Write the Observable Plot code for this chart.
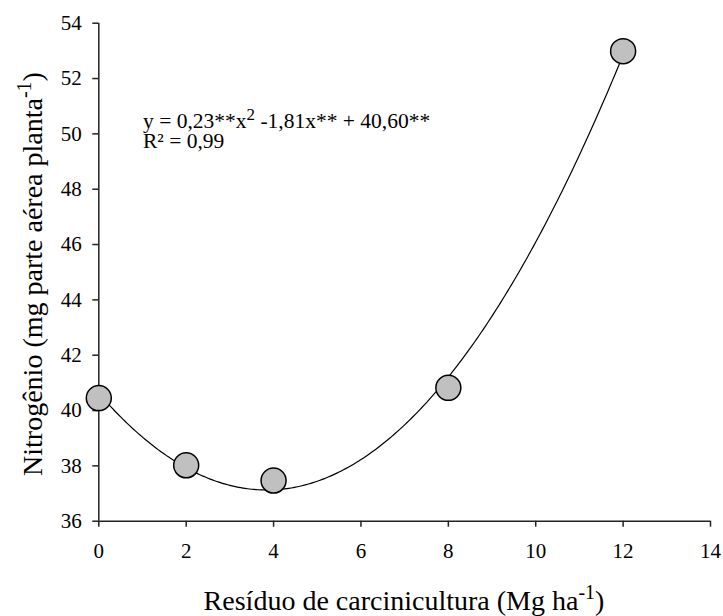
<!DOCTYPE html>
<html>
<head>
<meta charset="utf-8">
<script src="https://cdn.jsdelivr.net/npm/d3@7"></script>
<script src="https://cdn.jsdelivr.net/npm/@observablehq/plot@0.6"></script>
<style>
  html, body { margin: 0; padding: 0; background: #fff; }
  #chart svg { display: block; }
  #chart svg, #chart svg text, #chart svg tspan { font-family: "Liberation Serif", "Times New Roman", Times, serif; }
</style>
</head>
<body>
<div id="chart"></div>
<script>
// Data
const doses = [0, 2, 4, 8, 12];                       // Resíduo de carcinicultura (Mg ha-1)
const nitrogen = [40.45, 38.02, 37.47, 40.82, 52.99]; // Nitrogênio (mg parte aérea planta-1)
const xTicks = [0, 2, 4, 6, 8, 10, 12, 14];
const yTicks = [36, 38, 40, 42, 44, 46, 48, 50, 52, 54];
const equationText = ["y = 0,23**x", "2", " -1,81x** + 40,60**"];
const r2Text = "R² = 0,99";

const points = doses.map((d, i) => ({x: d, y: nitrogen[i]}));

// Quadratic least-squares fit of the data (trend line)
function quadFit(xs, ys) {
  const S = k => d3.sum(xs, x => x ** k);
  const T = k => d3.sum(xs.map((x, i) => (x ** k) * ys[i]));
  const A = [[S(0), S(1), S(2)], [S(1), S(2), S(3)], [S(2), S(3), S(4)]];
  const B = [T(0), T(1), T(2)];
  const M = A.map((row, i) => [...row, B[i]]);
  for (let i = 0; i < 3; i++) {
    for (let j = i + 1; j < 3; j++) {
      const f = M[j][i] / M[i][i];
      for (let k = i; k < 4; k++) M[j][k] -= f * M[i][k];
    }
  }
  const c = [0, 0, 0];
  for (let i = 2; i >= 0; i--) {
    let s = M[i][3];
    for (let k = i + 1; k < 3; k++) s -= M[i][k] * c[k];
    c[i] = s / M[i][i];
  }
  return c;
}
const coef = quadFit(doses, nitrogen);
const xMax = d3.max(doses);
const fitLine = d3.range(0, 241).map(i => {
  const x = xMax * i / 240;
  return {x, y: coef[0] + coef[1] * x + coef[2] * x * x};
});

const plot = Plot.plot({
  width: 723,
  height: 616,
  marginLeft: 98.3,
  marginRight: 13,
  marginTop: 22.7,
  marginBottom: 95.3,
  style: {fontSize: "21px", color: "#000", background: "#fff"},
  x: {domain: [0, 14]},
  y: {domain: [36, 54]},
  marks: [
    Plot.axisX({ticks: xTicks, tickSize: 6, tickPadding: 16, label: null, stroke: "#222", strokeWidth: 1.5, tickFormat: d => String(d)}),
    Plot.axisY({ticks: yTicks, tickSize: 6, tickPadding: 11, label: null, stroke: "#222", strokeWidth: 1.5, tickFormat: d => String(d)}),
    Plot.ruleY([36], {stroke: "#222", strokeWidth: 1.5}),
    Plot.ruleX([0], {stroke: "#222", strokeWidth: 1.5}),
    Plot.line(fitLine, {x: "x", y: "y", stroke: "#000", strokeWidth: 1.2}),
    Plot.dot(points, {x: "x", y: "y", r: 12.5, fill: "#c0c0c0", stroke: "#000", strokeWidth: 1.5})
  ]
});
document.getElementById("chart").appendChild(plot);

const svg = d3.select(plot);

// Equation
const eq = svg.append("text").attr("x", 143).attr("y", 128).attr("text-anchor", "start")
  .attr("font-size", 21.5).attr("fill", "#000");
eq.append("tspan").text(equationText[0]);
eq.append("tspan").attr("dy", -8).attr("font-size", 17).text(equationText[1]);
eq.append("tspan").attr("dy", 8).text(equationText[2]);
svg.append("text").attr("x", 143).attr("y", 148).attr("text-anchor", "start")
  .attr("font-size", 21.5).attr("fill", "#000").text(r2Text);

// X axis label (centred on the plot area)
const xl = svg.append("text").attr("x", 404).attr("y", 610).attr("text-anchor", "middle")
  .attr("font-size", 28).attr("fill", "#000");
xl.append("tspan").text("Resíduo de carcinicultura (Mg ha");
xl.append("tspan").attr("dy", -11).attr("font-size", 20).text("-1");
xl.append("tspan").attr("dy", 11).text(")");

// Y axis label
const yl = svg.append("text").attr("transform", "translate(42,274) rotate(-90)").attr("text-anchor", "middle")
  .attr("font-size", 28).attr("fill", "#000");
yl.append("tspan").text("Nitrogênio (mg parte aérea planta");
yl.append("tspan").attr("dy", -11).attr("font-size", 20).text("-1");
yl.append("tspan").attr("dy", 11).text(")");
</script>
</body>
</html>
